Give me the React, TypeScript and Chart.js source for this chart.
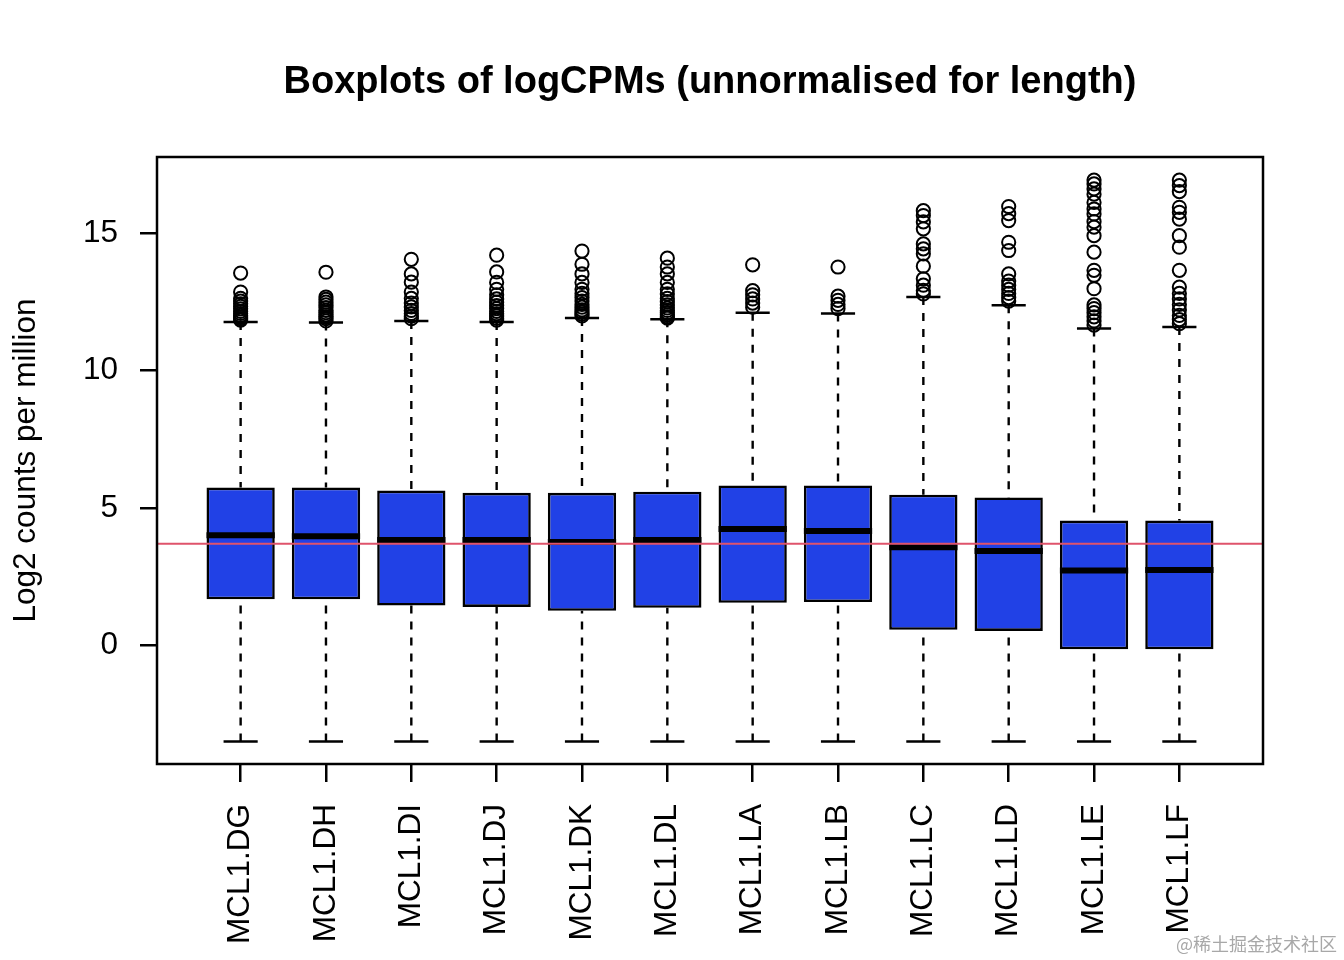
import React, { useEffect, useRef } from 'react';
import { Chart, registerables } from 'chart.js';

Chart.register(...registerables);

// ---- data ----
const samples = ['MCL1.DG', 'MCL1.DH', 'MCL1.DI', 'MCL1.DJ', 'MCL1.DK', 'MCL1.DL', 'MCL1.LA', 'MCL1.LB', 'MCL1.LC', 'MCL1.LD', 'MCL1.LE', 'MCL1.LF'];
const lowerWhisker = [-3.49, -3.49, -3.49, -3.49, -3.49, -3.49, -3.49, -3.49, -3.49, -3.49, -3.49, -3.49];
const q1 = [1.68, 1.68, 1.45, 1.40, 1.26, 1.37, 1.55, 1.58, 0.57, 0.53, -0.14, -0.14];
const medians = [4.01, 3.97, 3.83, 3.83, 3.76, 3.83, 4.23, 4.16, 3.57, 3.43, 2.73, 2.74];
const q3 = [5.74, 5.74, 5.63, 5.55, 5.55, 5.59, 5.82, 5.82, 5.48, 5.38, 4.54, 4.54];
const upperWhisker = [11.76, 11.74, 11.80, 11.76, 11.91, 11.86, 12.10, 12.07, 12.67, 12.37, 11.52, 11.58];

const outDG = [13.54, 12.85, 12.62, 12.52, 12.42, 12.33, 12.24, 12.15, 12.07, 12.0, 11.94, 11.88, 11.83];
const outDH = [13.57, 12.67, 12.58, 12.48, 12.38, 12.28, 12.18, 12.1, 12.02, 11.95, 11.88, 11.8];
const outDI = [14.04, 13.51, 13.21, 12.85, 12.62, 12.45, 12.31, 12.18, 12.07, 11.97, 11.88];
const outDJ = [14.19, 13.58, 13.2, 12.95, 12.75, 12.6, 12.48, 12.36, 12.25, 12.15, 12.06, 11.98, 11.9, 11.83];
const outDK = [14.34, 13.86, 13.51, 13.2, 12.95, 12.8, 12.65, 12.52, 12.4, 12.3, 12.2, 12.12, 12.05, 11.98];
const outDL = [14.08, 13.76, 13.51, 13.2, 12.95, 12.78, 12.62, 12.5, 12.38, 12.27, 12.18, 12.1, 12.02, 11.95, 11.9];
const outLA = [13.84, 12.9, 12.75, 12.6, 12.45, 12.3];
const outLB = [13.76, 12.7, 12.55, 12.4, 12.25];
const outLC = [15.81, 15.63, 15.4, 15.15, 14.6, 14.42, 14.24, 13.79, 13.33, 13.1, 12.91, 12.78];
const outLD = [15.96, 15.7, 15.45, 14.66, 14.36, 13.51, 13.25, 13.1, 12.95, 12.8, 12.65, 12.52];
const outLE = [16.92, 16.78, 16.6, 16.41, 16.11, 15.87, 15.69, 15.41, 15.21, 14.9, 14.3, 13.64, 13.46, 12.97, 12.38, 12.25, 12.1, 11.95, 11.8, 11.65];
const outLF = [16.92, 16.72, 16.5, 15.93, 15.75, 15.5, 14.9, 14.48, 13.64, 13.03, 12.8, 12.6, 12.4, 12.2, 12.0, 11.85, 11.7];
const outliers = [outDG, outDH, outDI, outDJ, outDK, outDL, outLA, outLB, outLC, outLD, outLE, outLF];

const yTicks = [0, 5, 10, 15];
const referenceLine = 3.70;

const FONT = '"Liberation Sans", Arial, Helvetica, sans-serif';

const boxParts = {
  id: 'boxParts',
  beforeDatasetsDraw(chart: any) {
    const { ctx, scales } = chart;
    const x = scales.x;
    const y = scales.y;
    ctx.save();
    ctx.strokeStyle = '#000';
    samples.forEach((_, i) => {
      const px = x.getPixelForValue(i + 1);
      const half = x.getPixelForValue(i + 1 + 0.2) - px;
      ctx.lineWidth = 2.4;
      ctx.setLineDash([8, 8]);
      ctx.beginPath();
      ctx.moveTo(px, y.getPixelForValue(upperWhisker[i]));
      ctx.lineTo(px, y.getPixelForValue(q3[i]));
      ctx.moveTo(px, y.getPixelForValue(lowerWhisker[i]));
      ctx.lineTo(px, y.getPixelForValue(q1[i]));
      ctx.stroke();
      ctx.setLineDash([]);
      ctx.lineWidth = 2.5;
      ctx.beginPath();
      const yu = y.getPixelForValue(upperWhisker[i]);
      const yl = y.getPixelForValue(lowerWhisker[i]);
      ctx.moveTo(px - half, yu);
      ctx.lineTo(px + half, yu);
      ctx.moveTo(px - half, yl);
      ctx.lineTo(px + half, yl);
      ctx.stroke();
    });
    ctx.restore();
  },
  afterDatasetsDraw(chart: any) {
    const { ctx, scales, chartArea } = chart;
    const y = scales.y;
    const bars = chart.getDatasetMeta(0).data;
    ctx.save();
    // medians
    ctx.strokeStyle = '#000';
    ctx.lineWidth = 6;
    ctx.lineCap = 'butt';
    samples.forEach((_, i) => {
      const el = bars[i];
      const { x: bx, width } = el.getProps(['x', 'width'], true);
      const py = y.getPixelForValue(medians[i]);
      ctx.beginPath();
      ctx.moveTo(bx - width / 2, py);
      ctx.lineTo(bx + width / 2, py);
      ctx.stroke();
    });
    // reference line
    const ry = y.getPixelForValue(referenceLine);
    ctx.strokeStyle = '#DF536B';
    ctx.lineWidth = 2;
    ctx.beginPath();
    ctx.moveTo(chartArea.left, ry);
    ctx.lineTo(chartArea.right, ry);
    ctx.stroke();
    // frame
    ctx.strokeStyle = '#000';
    ctx.lineWidth = 2.5;
    ctx.strokeRect(chartArea.left, chartArea.top, chartArea.right - chartArea.left, chartArea.bottom - chartArea.top);
    ctx.restore();
  },
  afterDraw(chart: any) {
    const { ctx } = chart;
    ctx.save();
    ctx.fillStyle = '#a8a8a8';
    ctx.font = '18px "Noto Sans CJK SC", sans-serif';
    ctx.textAlign = 'right';
    ctx.textBaseline = 'middle';
    ctx.fillText('@稀土掘金技术社区', 1337, 944);
    ctx.restore();
  },
};

export default function App() {
  const ref = useRef<HTMLCanvasElement>(null);

  useEffect(() => {
    if (!ref.current) return;
    const chart = new Chart(ref.current, {
      type: 'bar',
      data: {
        datasets: [
          {
            type: 'bar',
            data: samples.map((_, i) => ({ x: i + 1, y: [q1[i], q3[i]] })) as any,
            backgroundColor: '#2141E6',
            borderColor: '#000',
            borderWidth: 2.6,
            borderSkipped: false,
            barPercentage: 0.8,
            categoryPercentage: 1,
          } as any,
          {
            type: 'scatter',
            data: samples.flatMap((_, i) => outliers[i].map((v) => ({ x: i + 1, y: v }))) as any,
            pointStyle: 'circle',
            pointRadius: 6.6,
            pointBorderWidth: 2,
            pointBackgroundColor: 'rgba(0,0,0,0)',
            pointBorderColor: '#000',
            showLine: false,
          } as any,
        ],
      },
      options: {
        responsive: false,
        animation: false,
        events: [],
        layout: { padding: { left: 0, right: 81, top: 0, bottom: 0 } },
        plugins: {
          legend: { display: false },
          tooltip: { enabled: false },
          title: {
            display: true,
            text: 'Boxplots of logCPMs (unnormalised for length)',
            color: '#000',
            fullSize: false,
            font: { family: FONT, size: 38, weight: 'bold' },
            padding: { top: 60, bottom: 51.4 },
          },
        },
        scales: {
          x: {
            type: 'linear',
            min: 0.02,
            max: 12.98,
            offset: false,
            afterBuildTicks: (scale: any) => {
              scale.ticks = samples.map((_, i) => ({ value: i + 1 }));
            },
            afterFit: (scale: any) => {
              scale.height = 196;
            },
            ticks: {
              autoSkip: false,
              minRotation: 90,
              maxRotation: 90,
              padding: 22,
              color: '#000',
              font: { family: FONT, size: 31.5 },
              callback: (v: any) => samples[Math.round(Number(v)) - 1] ?? '',
            },
            grid: {
              offset: false,
              drawOnChartArea: false,
              drawTicks: true,
              tickLength: 18,
              color: '#000',
              lineWidth: 2.5,
            },
            border: { display: false },
          } as any,
          y: {
            type: 'linear',
            min: -4.31,
            max: 17.76,
            afterBuildTicks: (scale: any) => {
              scale.ticks = yTicks.map((v) => ({ value: v }));
            },
            afterFit: (scale: any) => {
              scale.width = 157;
            },
            ticks: {
              padding: 22,
              color: '#000',
              font: { family: FONT, size: 31.5 },
              callback: (v: any) => String(v),
            },
            grid: {
              drawOnChartArea: false,
              drawTicks: true,
              tickLength: 17,
              color: '#000',
              lineWidth: 2.5,
            },
            border: { display: false },
            title: {
              display: true,
              text: 'Log2 counts per million',
              color: '#000',
              font: { family: FONT, size: 31.5 },
              padding: { top: 7, bottom: 0 },
            },
          } as any,
        },
      } as any,
      plugins: [boxParts],
    });
    return () => chart.destroy();
  }, []);

  return (
    <div style={{ position: 'absolute', left: 0, top: 0, width: 1344, height: 960, background: '#fff' }}>
      <canvas ref={ref} width={1344} height={960} style={{ width: 1344, height: 960, display: 'block' }} />
    </div>
  );
}
